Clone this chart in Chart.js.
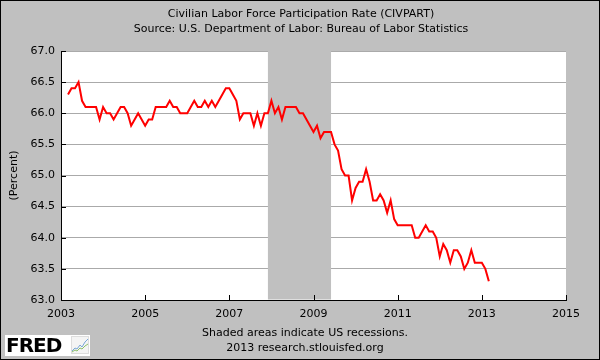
<!DOCTYPE html>
<html>
<head>
<meta charset="utf-8">
<script src="https://cdn.jsdelivr.net/npm/chart.js@4/dist/chart.umd.min.js"></script>
<style>
  body { margin: 0; background: #c0c0c0; }
  #wrap { position: relative; width: 600px; height: 360px; font-family: "DejaVu Sans", sans-serif; color: #000; }
  #wrap canvas { position: absolute; left: 0; top: 0; }
  .txt { position: absolute; font-size: 11px; line-height: 15px; white-space: nowrap; text-align: center; }
  #head { left: 0; top: 6px; width: 602px; }
  #foot { left: 0; top: 325px; width: 610px; }
  #fred { position: absolute; left: 5px; top: 335px; width: 85px; height: 21px; background: #fff; }
  #fred span { position: absolute; left: 1px; top: -2px; font: bold 20px "DejaVu Sans", sans-serif; letter-spacing: -1px; }
  #fred svg { position: absolute; left: 66px; top: 1px; }
</style>
</head>
<body>
<div id="wrap">
  <canvas id="c" width="600" height="360"></canvas>
  <div class="txt" id="head">Civilian Labor Force Participation Rate (CIVPART)<br>Source: U.S. Department of Labor: Bureau of Labor Statistics</div>
  <div class="txt" id="foot">Shaded areas indicate US recessions.<br>2013 research.stlouisfed.org</div>
  <div id="fred"><span>FRED</span>
    <svg width="18" height="18" viewBox="0 0 18 18">
      <rect x="0.5" y="0.5" width="17" height="17" fill="#f4f4f4" stroke="#ddd"/>
      <polyline points="1,15 4,12 6,13 9,9 11,11 14,6 17,3" fill="none" stroke="#7aa7d8" stroke-width="1"/>
      <polyline points="1,16 4,14 6,15 9,12 11,13 14,10 17,8" fill="none" stroke="#8cc06a" stroke-width="1"/>
    </svg>
  </div>
</div>
<script>
// CIVPART, monthly, Mar 2003 .. Mar 2013
const startYear = 2003;
const startMonth = 3;
const civpart = [
  66.3, 66.4, 66.4, 66.5, 66.2, 66.1, 66.1, 66.1, 66.1, 65.9,
  66.1, 66.0, 66.0, 65.9, 66.0, 66.1, 66.1, 66.0, 65.8, 65.9, 66.0, 65.9,
  65.8, 65.9, 65.9, 66.1, 66.1, 66.1, 66.1, 66.2, 66.1, 66.1, 66.0, 66.0,
  66.0, 66.1, 66.2, 66.1, 66.1, 66.2, 66.1, 66.2, 66.1, 66.2, 66.3, 66.4,
  66.4, 66.3, 66.2, 65.9, 66.0, 66.0, 66.0, 65.8, 66.0, 65.8, 66.0, 66.0,
  66.2, 66.0, 66.1, 65.9, 66.1, 66.1, 66.1, 66.1, 66.0, 66.0, 65.9, 65.8,
  65.7, 65.8, 65.6, 65.7, 65.7, 65.7, 65.5, 65.4, 65.1, 65.0, 65.0, 64.6,
  64.8, 64.9, 64.9, 65.1, 64.9, 64.6, 64.6, 64.7, 64.6, 64.4, 64.6, 64.3,
  64.2, 64.2, 64.2, 64.2, 64.2, 64.0, 64.0, 64.1, 64.2, 64.1, 64.1, 64.0,
  63.7, 63.9, 63.8, 63.6, 63.8, 63.8, 63.7, 63.5, 63.6, 63.8, 63.6, 63.6,
  63.6, 63.5, 63.3
];
const xTicks = [2003, 2005, 2007, 2009, 2011, 2013, 2015];
const yTicks = [63.0, 63.5, 64.0, 64.5, 65.0, 65.5, 66.0, 66.5, 67.0];
const recessionStart = ['2007-12'];
const recessionEnd = ['2009-06'];

const toYear = (s) => { const [y, m] = s.split('-').map(Number); return y + (m - 1) / 12; };
const points = civpart.map((v, i) => ({ x: startYear + (startMonth - 1 + i) / 12, y: v }));

Chart.defaults.font.family = '"DejaVu Sans", sans-serif';
Chart.defaults.font.size = 11;
Chart.defaults.color = '#000';

const frame = {
  id: 'frame',
  beforeDraw(chart) {
    const { ctx, chartArea: a } = chart;
    ctx.save();
    ctx.fillStyle = '#c0c0c0';
    ctx.fillRect(0, 0, chart.width, chart.height);
    ctx.fillStyle = '#fff';
    ctx.fillRect(a.left, a.top, a.right - a.left, a.bottom - a.top);
    ctx.strokeStyle = '#000';
    ctx.lineWidth = 1;
    ctx.strokeRect(0.5, 0.5, chart.width - 1, chart.height - 1);
    ctx.restore();
  },
  beforeDatasetsDraw(chart) {
    const { ctx, chartArea: a, scales: { x } } = chart;
    ctx.save();
    ctx.fillStyle = '#c0c0c0';
    recessionStart.forEach((s, i) => {
      const x0 = x.getPixelForValue(toYear(s));
      const x1 = x.getPixelForValue(toYear(recessionEnd[i]));
      ctx.fillRect(x0, a.top, x1 - x0, a.bottom - a.top - 0.5);
    });
    ctx.restore();
  },
  afterDraw(chart) {
    const { ctx, chartArea: a, scales: { x, y } } = chart;
    ctx.save();
    ctx.strokeStyle = '#000';
    ctx.lineWidth = 1;
    ctx.beginPath();
    yTicks.forEach(v => {
      const py = Math.round(y.getPixelForValue(v)) + 0.5;
      ctx.moveTo(a.left, py); ctx.lineTo(a.left + 5, py);
    });
    xTicks.forEach(v => {
      const px = Math.round(x.getPixelForValue(v)) + 0.5;
      ctx.moveTo(px, a.bottom); ctx.lineTo(px, a.bottom - 5);
    });
    ctx.stroke();
    ctx.restore();
  }
};

new Chart(document.getElementById('c'), {
  type: 'line',
  data: {
    datasets: [{
      data: points,
      borderColor: '#ff0000',
      borderWidth: 2,
      pointRadius: 0,
      tension: 0,
      fill: false
    }]
  },
  plugins: [frame],
  options: {
    responsive: false,
    animation: false,
    events: [],
    layout: { padding: { left: 0, right: 34, top: 51, bottom: 0 } },
    plugins: { legend: { display: false }, tooltip: { enabled: false } },
    scales: {
      x: {
        type: 'linear',
        min: 2003,
        max: 2015,
        afterBuildTicks: (s) => { s.ticks = xTicks.map(v => ({ value: v })); },
        afterFit: (s) => { s.height = 60; },
        ticks: { padding: 8, maxRotation: 0, autoSkip: false, callback: (v) => String(v) },
        grid: { display: false, drawTicks: false },
        border: { display: true, color: '#000', width: 1 }
      },
      y: {
        min: 63,
        max: 67,
        afterBuildTicks: (s) => { s.ticks = yTicks.map(v => ({ value: v })); },
        afterFit: (s) => { s.width = 61; },
        ticks: { padding: 6, autoSkip: false, callback: (v) => v.toFixed(1) },
        grid: { color: '#aaaaaa', lineWidth: 1, drawTicks: false },
        border: { display: true, color: '#000', width: 1 },
        title: { display: true, text: '(Percent)', padding: { top: 8, bottom: 0 } }
      }
    }
  }
});
</script>
</body>
</html>
